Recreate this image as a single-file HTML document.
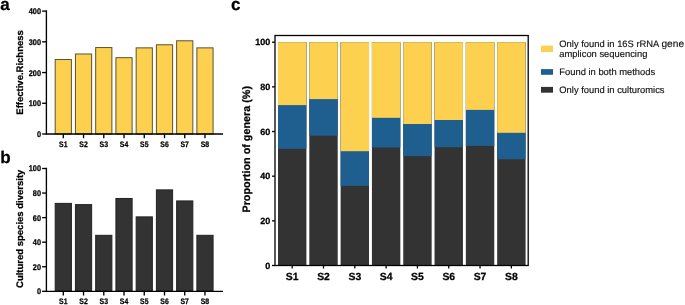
<!DOCTYPE html>
<html><head><meta charset="utf-8"><style>
html,body{margin:0;padding:0;background:#fff;width:685px;height:305px;overflow:hidden}
svg{display:block;font-family:"Liberation Sans", sans-serif;will-change:transform;text-rendering:geometricPrecision}
text[font-weight="bold"]{stroke:#000;stroke-width:0.25px;stroke-linejoin:round}
text[font-weight="normal"]{stroke:#111;stroke-width:0.15px;stroke-linejoin:round}
</style></head><body>
<svg width="685" height="305" viewBox="0 0 685 305">
<line x1="42.10" y1="134.00" x2="46.40" y2="134.00" stroke="#000" stroke-width="1.35"/>
<text transform="translate(41.00,136.95) scale(0.9,1)" font-size="8.2" font-weight="bold" text-anchor="end">0</text>
<line x1="42.10" y1="103.28" x2="46.40" y2="103.28" stroke="#000" stroke-width="1.35"/>
<text transform="translate(41.00,106.23) scale(0.9,1)" font-size="8.2" font-weight="bold" text-anchor="end">100</text>
<line x1="42.10" y1="72.55" x2="46.40" y2="72.55" stroke="#000" stroke-width="1.35"/>
<text transform="translate(41.00,75.50) scale(0.9,1)" font-size="8.2" font-weight="bold" text-anchor="end">200</text>
<line x1="42.10" y1="41.82" x2="46.40" y2="41.82" stroke="#000" stroke-width="1.35"/>
<text transform="translate(41.00,44.77) scale(0.9,1)" font-size="8.2" font-weight="bold" text-anchor="end">300</text>
<line x1="42.10" y1="11.10" x2="46.40" y2="11.10" stroke="#000" stroke-width="1.35"/>
<text transform="translate(41.00,14.05) scale(0.9,1)" font-size="8.2" font-weight="bold" text-anchor="end">400</text>
<rect x="55.20" y="59.53" width="16.20" height="74.47" fill="#fdd14f" stroke="#5c5230" stroke-width="1"/>
<rect x="75.44" y="54.00" width="16.20" height="80.00" fill="#fdd14f" stroke="#5c5230" stroke-width="1"/>
<rect x="95.68" y="47.55" width="16.20" height="86.45" fill="#fdd14f" stroke="#5c5230" stroke-width="1"/>
<rect x="115.92" y="57.69" width="16.20" height="76.31" fill="#fdd14f" stroke="#5c5230" stroke-width="1"/>
<rect x="136.16" y="47.86" width="16.20" height="86.14" fill="#fdd14f" stroke="#5c5230" stroke-width="1"/>
<rect x="156.40" y="44.78" width="16.20" height="89.22" fill="#fdd14f" stroke="#5c5230" stroke-width="1"/>
<rect x="176.64" y="40.79" width="16.20" height="93.21" fill="#fdd14f" stroke="#5c5230" stroke-width="1"/>
<rect x="196.88" y="47.86" width="16.20" height="86.14" fill="#fdd14f" stroke="#5c5230" stroke-width="1"/>
<line x1="46.40" y1="10.35" x2="46.40" y2="134.75" stroke="#000" stroke-width="1.35"/>
<line x1="46.40" y1="134.00" x2="223.00" y2="134.00" stroke="#000" stroke-width="1.35"/>
<line x1="63.30" y1="134.00" x2="63.30" y2="138.20" stroke="#000" stroke-width="1.35"/>
<text transform="translate(63.30,146.80) scale(0.86,1)" font-size="8.0" font-weight="bold" text-anchor="middle">S1</text>
<line x1="83.54" y1="134.00" x2="83.54" y2="138.20" stroke="#000" stroke-width="1.35"/>
<text transform="translate(83.54,146.80) scale(0.86,1)" font-size="8.0" font-weight="bold" text-anchor="middle">S2</text>
<line x1="103.78" y1="134.00" x2="103.78" y2="138.20" stroke="#000" stroke-width="1.35"/>
<text transform="translate(103.78,146.80) scale(0.86,1)" font-size="8.0" font-weight="bold" text-anchor="middle">S3</text>
<line x1="124.02" y1="134.00" x2="124.02" y2="138.20" stroke="#000" stroke-width="1.35"/>
<text transform="translate(124.02,146.80) scale(0.86,1)" font-size="8.0" font-weight="bold" text-anchor="middle">S4</text>
<line x1="144.26" y1="134.00" x2="144.26" y2="138.20" stroke="#000" stroke-width="1.35"/>
<text transform="translate(144.26,146.80) scale(0.86,1)" font-size="8.0" font-weight="bold" text-anchor="middle">S5</text>
<line x1="164.50" y1="134.00" x2="164.50" y2="138.20" stroke="#000" stroke-width="1.35"/>
<text transform="translate(164.50,146.80) scale(0.86,1)" font-size="8.0" font-weight="bold" text-anchor="middle">S6</text>
<line x1="184.74" y1="134.00" x2="184.74" y2="138.20" stroke="#000" stroke-width="1.35"/>
<text transform="translate(184.74,146.80) scale(0.86,1)" font-size="8.0" font-weight="bold" text-anchor="middle">S7</text>
<line x1="204.98" y1="134.00" x2="204.98" y2="138.20" stroke="#000" stroke-width="1.35"/>
<text transform="translate(204.98,146.80) scale(0.86,1)" font-size="8.0" font-weight="bold" text-anchor="middle">S8</text>
<text transform="translate(23.3,72.45) rotate(-90)" font-size="9.5" font-weight="bold" text-anchor="middle">Effective.Richness</text>
<text x="0.20" y="10.00" font-size="17" font-weight="bold" text-anchor="start" fill="#000" >a</text>
<line x1="42.10" y1="291.30" x2="46.40" y2="291.30" stroke="#000" stroke-width="1.35"/>
<text transform="translate(41.00,294.25) scale(0.9,1)" font-size="8.2" font-weight="bold" text-anchor="end">0</text>
<line x1="42.10" y1="266.74" x2="46.40" y2="266.74" stroke="#000" stroke-width="1.35"/>
<text transform="translate(41.00,269.69) scale(0.9,1)" font-size="8.2" font-weight="bold" text-anchor="end">20</text>
<line x1="42.10" y1="242.18" x2="46.40" y2="242.18" stroke="#000" stroke-width="1.35"/>
<text transform="translate(41.00,245.13) scale(0.9,1)" font-size="8.2" font-weight="bold" text-anchor="end">40</text>
<line x1="42.10" y1="217.62" x2="46.40" y2="217.62" stroke="#000" stroke-width="1.35"/>
<text transform="translate(41.00,220.57) scale(0.9,1)" font-size="8.2" font-weight="bold" text-anchor="end">60</text>
<line x1="42.10" y1="193.06" x2="46.40" y2="193.06" stroke="#000" stroke-width="1.35"/>
<text transform="translate(41.00,196.01) scale(0.9,1)" font-size="8.2" font-weight="bold" text-anchor="end">80</text>
<line x1="42.10" y1="168.50" x2="46.40" y2="168.50" stroke="#000" stroke-width="1.35"/>
<text transform="translate(41.00,171.45) scale(0.9,1)" font-size="8.2" font-weight="bold" text-anchor="end">100</text>
<rect x="55.20" y="203.38" width="16.20" height="87.92" fill="#333333" stroke="#222" stroke-width="1"/>
<rect x="75.44" y="204.61" width="16.20" height="86.69" fill="#333333" stroke="#222" stroke-width="1"/>
<rect x="95.68" y="235.31" width="16.20" height="55.99" fill="#333333" stroke="#222" stroke-width="1"/>
<rect x="115.92" y="198.47" width="16.20" height="92.83" fill="#333333" stroke="#222" stroke-width="1"/>
<rect x="136.16" y="216.89" width="16.20" height="74.41" fill="#333333" stroke="#222" stroke-width="1"/>
<rect x="156.40" y="189.88" width="16.20" height="101.42" fill="#333333" stroke="#222" stroke-width="1"/>
<rect x="176.64" y="200.93" width="16.20" height="90.37" fill="#333333" stroke="#222" stroke-width="1"/>
<rect x="196.88" y="235.31" width="16.20" height="55.99" fill="#333333" stroke="#222" stroke-width="1"/>
<line x1="46.40" y1="167.75" x2="46.40" y2="292.05" stroke="#000" stroke-width="1.35"/>
<line x1="46.40" y1="291.30" x2="223.00" y2="291.30" stroke="#000" stroke-width="1.35"/>
<line x1="63.30" y1="291.30" x2="63.30" y2="295.50" stroke="#000" stroke-width="1.35"/>
<text transform="translate(63.30,304.00) scale(0.86,1)" font-size="8.0" font-weight="bold" text-anchor="middle">S1</text>
<line x1="83.54" y1="291.30" x2="83.54" y2="295.50" stroke="#000" stroke-width="1.35"/>
<text transform="translate(83.54,304.00) scale(0.86,1)" font-size="8.0" font-weight="bold" text-anchor="middle">S2</text>
<line x1="103.78" y1="291.30" x2="103.78" y2="295.50" stroke="#000" stroke-width="1.35"/>
<text transform="translate(103.78,304.00) scale(0.86,1)" font-size="8.0" font-weight="bold" text-anchor="middle">S3</text>
<line x1="124.02" y1="291.30" x2="124.02" y2="295.50" stroke="#000" stroke-width="1.35"/>
<text transform="translate(124.02,304.00) scale(0.86,1)" font-size="8.0" font-weight="bold" text-anchor="middle">S4</text>
<line x1="144.26" y1="291.30" x2="144.26" y2="295.50" stroke="#000" stroke-width="1.35"/>
<text transform="translate(144.26,304.00) scale(0.86,1)" font-size="8.0" font-weight="bold" text-anchor="middle">S5</text>
<line x1="164.50" y1="291.30" x2="164.50" y2="295.50" stroke="#000" stroke-width="1.35"/>
<text transform="translate(164.50,304.00) scale(0.86,1)" font-size="8.0" font-weight="bold" text-anchor="middle">S6</text>
<line x1="184.74" y1="291.30" x2="184.74" y2="295.50" stroke="#000" stroke-width="1.35"/>
<text transform="translate(184.74,304.00) scale(0.86,1)" font-size="8.0" font-weight="bold" text-anchor="middle">S7</text>
<line x1="204.98" y1="291.30" x2="204.98" y2="295.50" stroke="#000" stroke-width="1.35"/>
<text transform="translate(204.98,304.00) scale(0.86,1)" font-size="8.0" font-weight="bold" text-anchor="middle">S8</text>
<text transform="translate(23.3,228.8) rotate(-90)" font-size="9.5" font-weight="bold" text-anchor="middle">Cultured species diversity</text>
<text x="0.20" y="163.00" font-size="17" font-weight="bold" text-anchor="start" fill="#000" >b</text>
<rect x="278.00" y="42.20" width="28.40" height="223.30" fill="#333333"/>
<rect x="278.00" y="42.20" width="28.40" height="106.60" fill="#1f5f8f"/>
<rect x="278.00" y="42.20" width="28.40" height="62.90" fill="#fdd14f"/>
<rect x="309.31" y="42.20" width="28.40" height="223.30" fill="#333333"/>
<rect x="309.31" y="42.20" width="28.40" height="93.50" fill="#1f5f8f"/>
<rect x="309.31" y="42.20" width="28.40" height="56.90" fill="#fdd14f"/>
<rect x="340.62" y="42.20" width="28.40" height="223.30" fill="#333333"/>
<rect x="340.62" y="42.20" width="28.40" height="143.70" fill="#1f5f8f"/>
<rect x="340.62" y="42.20" width="28.40" height="109.00" fill="#fdd14f"/>
<rect x="371.93" y="42.20" width="28.40" height="223.30" fill="#333333"/>
<rect x="371.93" y="42.20" width="28.40" height="105.30" fill="#1f5f8f"/>
<rect x="371.93" y="42.20" width="28.40" height="75.60" fill="#fdd14f"/>
<rect x="403.24" y="42.20" width="28.40" height="223.30" fill="#333333"/>
<rect x="403.24" y="42.20" width="28.40" height="113.90" fill="#1f5f8f"/>
<rect x="403.24" y="42.20" width="28.40" height="81.80" fill="#fdd14f"/>
<rect x="434.55" y="42.20" width="28.40" height="223.30" fill="#333333"/>
<rect x="434.55" y="42.20" width="28.40" height="105.00" fill="#1f5f8f"/>
<rect x="434.55" y="42.20" width="28.40" height="77.80" fill="#fdd14f"/>
<rect x="465.86" y="42.20" width="28.40" height="223.30" fill="#333333"/>
<rect x="465.86" y="42.20" width="28.40" height="103.70" fill="#1f5f8f"/>
<rect x="465.86" y="42.20" width="28.40" height="67.70" fill="#fdd14f"/>
<rect x="497.17" y="42.20" width="28.40" height="223.30" fill="#333333"/>
<rect x="497.17" y="42.20" width="28.40" height="117.10" fill="#1f5f8f"/>
<rect x="497.17" y="42.20" width="28.40" height="90.60" fill="#fdd14f"/>
<rect x="275.00" y="35.50" width="253.20" height="230.00" fill="none" stroke="#000" stroke-width="1.3"/>
<line x1="272.00" y1="265.50" x2="275.00" y2="265.50" stroke="#000" stroke-width="1.3"/>
<text x="270.30" y="268.70" font-size="9" font-weight="bold" text-anchor="end" fill="#000" >0</text>
<line x1="272.00" y1="220.84" x2="275.00" y2="220.84" stroke="#000" stroke-width="1.3"/>
<text x="270.30" y="224.04" font-size="9" font-weight="bold" text-anchor="end" fill="#000" >20</text>
<line x1="272.00" y1="176.18" x2="275.00" y2="176.18" stroke="#000" stroke-width="1.3"/>
<text x="270.30" y="179.38" font-size="9" font-weight="bold" text-anchor="end" fill="#000" >40</text>
<line x1="272.00" y1="131.52" x2="275.00" y2="131.52" stroke="#000" stroke-width="1.3"/>
<text x="270.30" y="134.72" font-size="9" font-weight="bold" text-anchor="end" fill="#000" >60</text>
<line x1="272.00" y1="86.86" x2="275.00" y2="86.86" stroke="#000" stroke-width="1.3"/>
<text x="270.30" y="90.06" font-size="9" font-weight="bold" text-anchor="end" fill="#000" >80</text>
<line x1="272.00" y1="42.20" x2="275.00" y2="42.20" stroke="#000" stroke-width="1.3"/>
<text x="270.30" y="45.40" font-size="9" font-weight="bold" text-anchor="end" fill="#000" >100</text>
<line x1="292.20" y1="265.50" x2="292.20" y2="268.50" stroke="#000" stroke-width="1.3"/>
<text x="292.20" y="279.80" font-size="10.4" font-weight="bold" text-anchor="middle" fill="#000" >S1</text>
<line x1="323.51" y1="265.50" x2="323.51" y2="268.50" stroke="#000" stroke-width="1.3"/>
<text x="323.51" y="279.80" font-size="10.4" font-weight="bold" text-anchor="middle" fill="#000" >S2</text>
<line x1="354.82" y1="265.50" x2="354.82" y2="268.50" stroke="#000" stroke-width="1.3"/>
<text x="354.82" y="279.80" font-size="10.4" font-weight="bold" text-anchor="middle" fill="#000" >S3</text>
<line x1="386.13" y1="265.50" x2="386.13" y2="268.50" stroke="#000" stroke-width="1.3"/>
<text x="386.13" y="279.80" font-size="10.4" font-weight="bold" text-anchor="middle" fill="#000" >S4</text>
<line x1="417.44" y1="265.50" x2="417.44" y2="268.50" stroke="#000" stroke-width="1.3"/>
<text x="417.44" y="279.80" font-size="10.4" font-weight="bold" text-anchor="middle" fill="#000" >S5</text>
<line x1="448.75" y1="265.50" x2="448.75" y2="268.50" stroke="#000" stroke-width="1.3"/>
<text x="448.75" y="279.80" font-size="10.4" font-weight="bold" text-anchor="middle" fill="#000" >S6</text>
<line x1="480.06" y1="265.50" x2="480.06" y2="268.50" stroke="#000" stroke-width="1.3"/>
<text x="480.06" y="279.80" font-size="10.4" font-weight="bold" text-anchor="middle" fill="#000" >S7</text>
<line x1="511.37" y1="265.50" x2="511.37" y2="268.50" stroke="#000" stroke-width="1.3"/>
<text x="511.37" y="279.80" font-size="10.4" font-weight="bold" text-anchor="middle" fill="#000" >S8</text>
<text transform="translate(249.8,149.25) rotate(-90)" font-size="10.8" font-weight="bold" text-anchor="middle">Proportion of genera (%)</text>
<text x="231.00" y="10.00" font-size="17" font-weight="bold" text-anchor="start" fill="#000" >c</text>
<rect x="541.00" y="45.60" width="12.00" height="6.40" fill="#fdd14f"/>
<rect x="541.00" y="69.10" width="12.00" height="5.70" fill="#1f5f8f"/>
<rect x="541.00" y="86.90" width="12.00" height="5.80" fill="#333333"/>
<text x="559.30" y="46.80" font-size="9.4" font-weight="normal" text-anchor="start" fill="#111" >Only found in 16S rRNA <tspan font-size="10.2">gene</tspan></text>
<text x="559.30" y="56.60" font-size="9.4" font-weight="normal" text-anchor="start" fill="#111" >amplicon sequencing</text>
<text x="559.30" y="74.70" font-size="9.4" font-weight="normal" text-anchor="start" fill="#111" >Found in both methods</text>
<text x="559.30" y="92.80" font-size="9.4" font-weight="normal" text-anchor="start" fill="#111" >Only found in culturomics</text>
</svg>
</body></html>
